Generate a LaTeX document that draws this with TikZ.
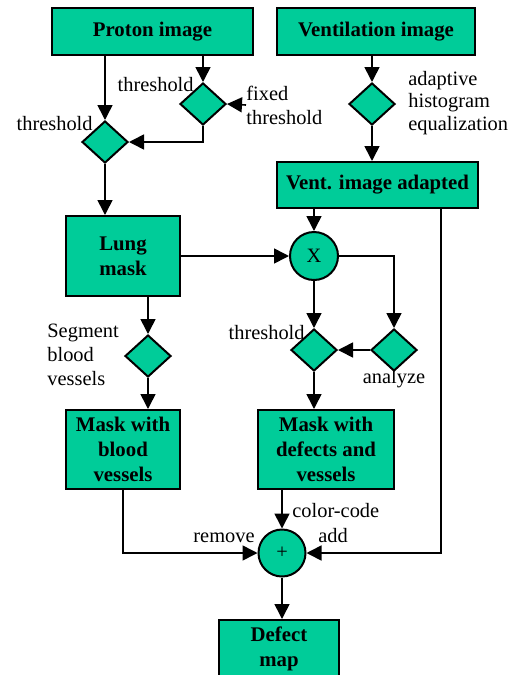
\documentclass[tikz,border=0pt]{standalone}
\usepackage{fontspec}
\setmainfont{Liberation Serif}
\usepackage{tikz}
\usetikzlibrary{arrows.meta, shapes.geometric}
\definecolor{boxgreen}{RGB}{0,204,153}

\begin{document}
\begin{tikzpicture}[x=0.5pt, y=-0.5pt,
			>={Triangle[length=7.5pt,width=7.5pt]},   %Pfeilspitzen
			block/.style={draw, fill=boxgreen, line width=1pt, inner sep=0pt, align=center, font=\fontsize{10.4}{12.5}\selectfont\bfseries},
			dia/.style={draw, fill=boxgreen, line width=1pt, diamond, inner sep=0pt, minimum width=23pt, minimum height=21pt},
			op/.style={draw, fill=boxgreen, line width=1pt, circle, inner sep=0pt, minimum size=24pt, font=\fontsize{10.2}{12}\selectfont},
			lbl/.style={inner sep=0pt, align=left, font=\fontsize{10.2}{12}\selectfont},
			conn/.style={->, line width=0.8pt}]
			\useasboundingbox (0,0) rectangle (526,675);
			% Bloecke
			\node[block, minimum width=100.5pt, minimum height=23.5pt] (proton) at (152.5,31.5) {Proton image};
			\node[block, minimum width=99pt, minimum height=23.5pt] (vent) at (376,31.5) {Ventilation image};
			\node[block, minimum width=100.5pt, minimum height=23pt] (adapted) at (377.5,185) {Vent. image adapted};
			\node[block, minimum width=57pt, minimum height=40pt] (lung) at (123,256) {Lung\\mask};
			\node[block, minimum width=57pt, minimum height=39.5pt] (blood) at (123,449.5) {Mask with\\blood\\vessels};
			\node[block, minimum width=68pt, minimum height=39.5pt] (defects) at (326,449.5) {Mask with\\defects and\\vessels};
			\node[block, minimum width=60pt, minimum height=29pt] (map) at (279,649) {Defect\\map};
			% Rauten
			\foreach \n/\x/\y in {dfix/203/104, dtwo/105/142, dadapt/372/104, dseg/148/356, dthr/314/350, dana/394/350}
				\node[dia] (\n) at (\x,\y) {};
			% Operatoren
			\node[op] (mult) at (314,256) {X};
			\node[op, minimum size=23.5pt] (plus) at (282,553) {+};
			\coordinate (tap) at (441,553);
			% Beschriftung
			\node[lbl, anchor=base east] (thra) at (194,91) {threshold};
			\node[lbl, anchor=base east] (thrb) at (93,130) {threshold};
			\node[lbl, anchor=west] (fixlbl) at (246,105) {fixed\\threshold};
			\node[lbl, anchor=west, font=\fontsize{10.2}{11.4}\selectfont] (ahe) at (408,103) {adaptive\\histogram\\equalization};
			\node[lbl, anchor=west] (seglbl) at (47,354.5) {Segment\\blood\\vessels};
			\node[lbl, anchor=base east] (thrc) at (305,339) {threshold};
			\node[lbl, anchor=base] (analbl) at (394,383) {analyze};
			\node[lbl, anchor=base west] (cclbl) at (292,517) {color-code};
			\node[lbl, anchor=base east] (remlbl) at (255,542) {remove};
			\node[lbl, anchor=base west] (addlbl) at (318,542) {add};
			% Verbindungen
			\draw[conn] (proton.south -| dtwo) -- (dtwo.north);
			\draw[conn] (proton.south -| dfix) -- (dfix.north);
			\draw[conn] (dfix.south) |- (dtwo.east);
			\draw[conn] (fixlbl.west) -- (dfix.east);
			\draw[conn] (dtwo.south) -- (dtwo.south |- lung.north);
			\draw[conn] (vent.south -| dadapt) -- (dadapt.north);
			\draw[conn] (dadapt.south) -- (dadapt.south |- adapted.north);
			\draw[conn] (adapted.south -| mult) -- (mult.north);
			\draw[conn] (lung.east) -- (mult.west);
			\draw[conn] (mult.south) -- (dthr.north);
			\draw[conn] (mult.east) -| (dana.north);
			\draw[conn] (dana.west) -- (dthr.east);
			\draw[conn] (dthr.south) -- (dthr.south |- defects.north);
			\draw[conn] (lung.south -| dseg) -- (dseg.north);
			\draw[conn] (dseg.south) -- (dseg.south |- blood.north);
			\draw[conn] (blood.south) |- (plus.west);
			\draw[conn] (defects.south -| plus) -- (plus.north);
			\draw[conn] (adapted.south -| tap) -- (tap) -- (plus.east);
			\draw[conn] (plus.south) -- (plus.south |- map.north);
		\end{tikzpicture}
\end{document}
